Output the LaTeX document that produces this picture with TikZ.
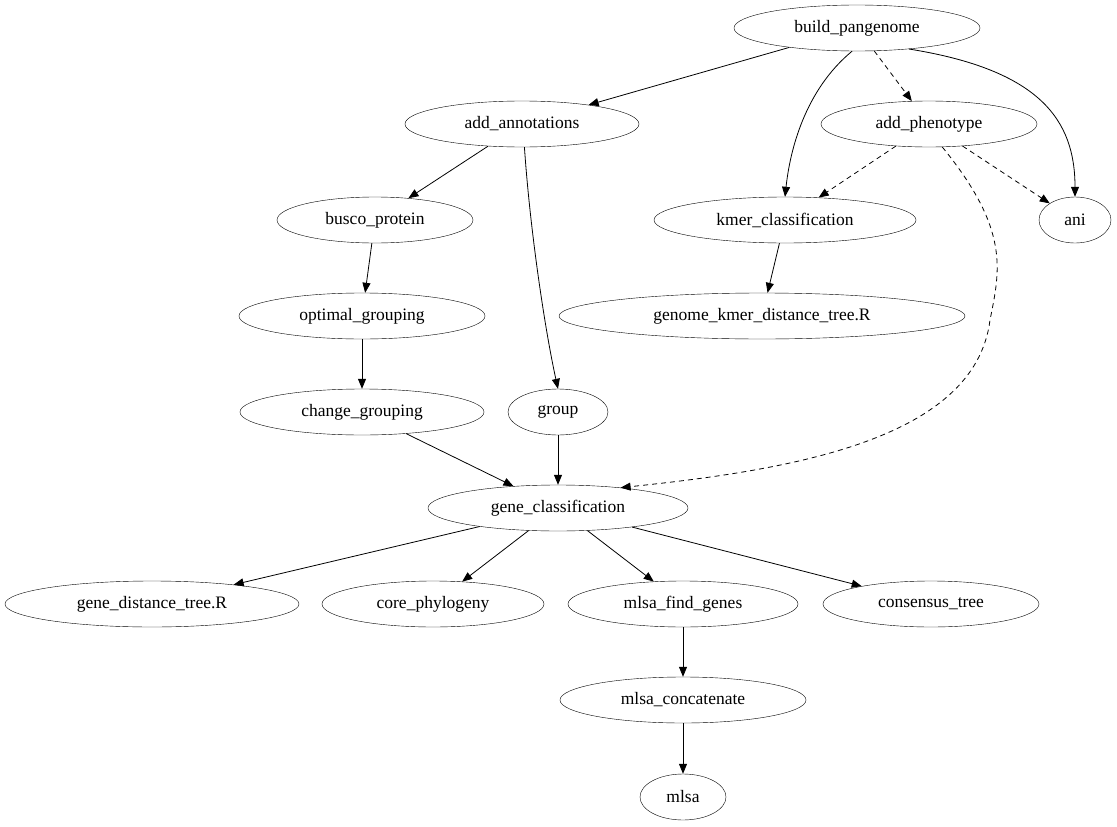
\documentclass[tikz,border=0pt]{standalone}
\usepackage{fontspec}
\setmainfont{Liberation Serif}
\usetikzlibrary{arrows.meta,shapes.geometric}
\begin{document}
\begin{tikzpicture}[x=1pt,y=-1pt,
  nd/.style={draw,ellipse,inner sep=0pt,minimum height=46pt,font=\fontsize{17.5}{20}\selectfont},
  ed/.style={-{Triangle[length=10pt,width=8pt]},line width=0.8pt},
  dd/.style={ed,dash pattern=on 5pt off 4pt}]
\useasboundingbox (0,0) rectangle (1117,827);
\node[nd,minimum width=246pt] (bp) at (857,28) {build\_pangenome};
\node[nd,minimum width=234pt] (aa) at (522,124) {add\_annotations};
\node[nd,minimum width=216pt] (ap) at (929,124) {add\_phenotype};
\node[nd,minimum width=196pt] (bu) at (375,220) {busco\_protein};
\node[nd,minimum width=262pt] (km) at (785,220) {kmer\_classification};
\node[nd,minimum width=72pt] (ani) at (1075,220) {ani};
\node[nd,minimum width=246pt] (og) at (362,316) {optimal\_grouping};
\node[nd,minimum width=406pt] (gk) at (762,316) {genome\_kmer\_distance\_tree.R};
\node[nd,minimum width=244pt] (cg) at (362,412) {change\_grouping};
\node[nd,minimum width=100pt] (gr) at (558,412) {group};
\node[nd,minimum width=260pt] (gc) at (558,508) {gene\_classification};
\node[nd,minimum width=294pt] (gd) at (152,604) {gene\_distance\_tree.R};
\node[nd,minimum width=222pt] (cp) at (433,604) {core\_phylogeny};
\node[nd,minimum width=230pt] (mf) at (683,604) {mlsa\_find\_genes};
\node[nd,minimum width=216pt] (ct) at (931,604) {consensus\_tree};
\node[nd,minimum width=246pt] (mc) at (683,700) {mlsa\_concatenate};
\node[nd,minimum width=86pt] (ml) at (683,797) {mlsa};
\draw[ed] (bp) -- (aa);
\draw[ed] (bp.-102) .. controls (805,90) and (790,150) .. (km.north);
\draw[dd] (bp) -- (ap);
\draw[ed] (bp.-22) .. controls (1040,70) and (1075,120) .. (ani.north);
\draw[ed] (aa) -- (bu);
\draw[ed] (aa.-84) .. controls (530,230) and (545,330) .. (gr.north);
\draw[dd] (ap) -- (km);
\draw[dd] (ap) -- (ani);
\draw[dd] (ap.-60) .. controls (1010,230) and (1000,270) .. (990,320) .. controls (975,440) and (790,470) .. (gc.18);
\draw[ed] (km) -- (gk);
\draw[ed] (bu) -- (og);
\draw[ed] (og) -- (cg);
\draw[ed] (cg) -- (gc);
\draw[ed] (gr) -- (gc);
\draw[ed] (gc) -- (gd);
\draw[ed] (gc) -- (cp);
\draw[ed] (gc) -- (mf);
\draw[ed] (gc) -- (ct);
\draw[ed] (mf) -- (mc);
\draw[ed] (mc) -- (ml);
\end{tikzpicture}
\end{document}
